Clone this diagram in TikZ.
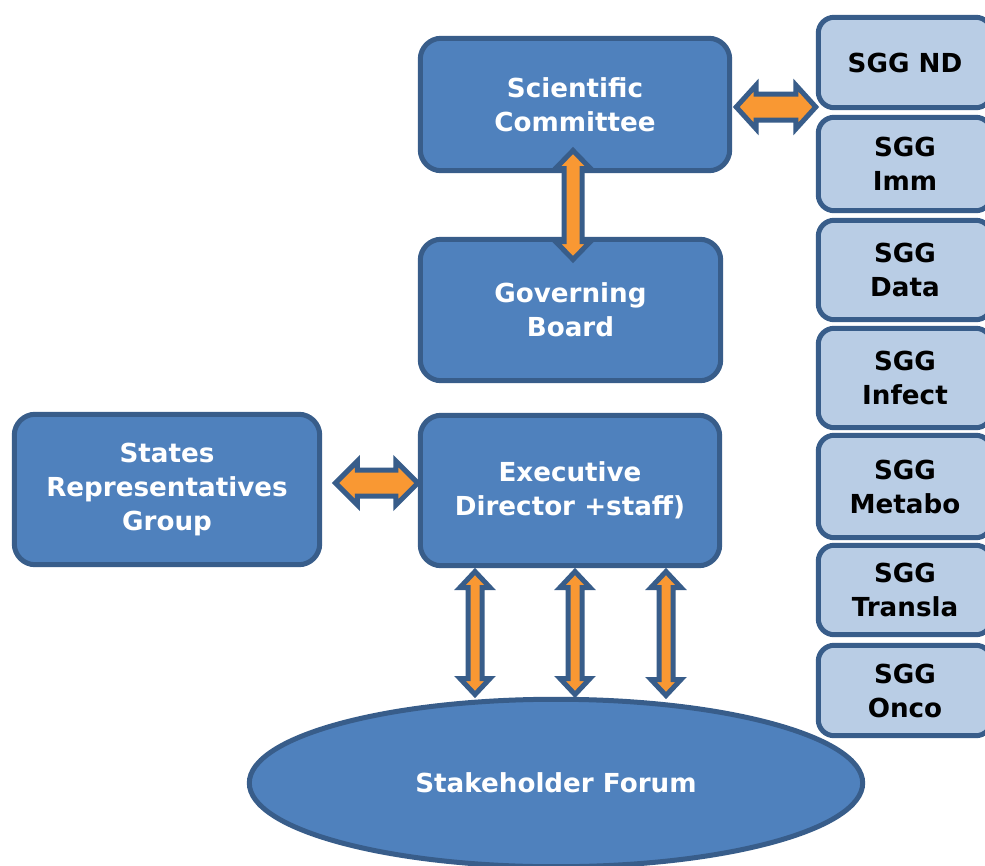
\documentclass[tikz,border=0pt]{standalone}
\usepackage{fontspec}
\setmainfont{DejaVu Sans}
\usetikzlibrary{calc,shapes.geometric}
\definecolor{boxblue}{RGB}{79,129,189}
\definecolor{edgeblue}{RGB}{56,93,138}
\definecolor{sggfill}{RGB}{185,205,229}
\definecolor{arroworange}{RGB}{249,152,51}
\newcommand\dblarrowpath[5]{%
  \draw[twowaystyle] (#1) -- ($(#1)!#3!(#2)!#4!90:(#2)$) -- ($(#1)!#3!(#2)!#5!90:(#2)$)
    -- ($(#2)!#3!(#1)!#5!270:(#1)$) -- ($(#2)!#3!(#1)!#4!270:(#1)$) -- (#2)
    -- ($(#2)!#3!(#1)!#4!90:(#1)$) -- ($(#2)!#3!(#1)!#5!90:(#1)$)
    -- ($(#1)!#3!(#2)!#5!270:(#2)$) -- ($(#1)!#3!(#2)!#4!270:(#2)$) -- cycle;}
\begin{document}
\begin{tikzpicture}[x=0.02cm,y=-0.02cm,
  labelfont/.style={font=\bfseries\fontsize{14.9}{19.35}\selectfont},
  mainbox/.style={draw=edgeblue, fill=boxblue, line width=0.1cm, rounded corners=0.42cm,
    text=white, labelfont, align=center, inner sep=0pt},
  sggbox/.style={draw=edgeblue, fill=sggfill, line width=0.1cm, rounded corners=0.32cm,
    text=black, labelfont, align=center, inner sep=0pt, minimum width=3.47cm},
  forum/.style={ellipse, draw=edgeblue, fill=boxblue, line width=0.1cm,
    text=white, labelfont, inner sep=0pt},
  twowaystyle/.style={draw=edgeblue, fill=arroworange, line width=0.1cm, line join=miter}]
\clip (0,0) rectangle (985,866);
\fill[white] (0,0) rectangle (985,866);
% main boxes
\node[mainbox, minimum width=6.19cm, minimum height=2.65cm] (sc) at (575,104.5) {Scientific\\Committee};
\node[mainbox, minimum width=6.01cm, minimum height=2.83cm] (gb) at (570.5,310) {Governing\\Board};
\node[mainbox, minimum width=6.11cm, minimum height=3.01cm] (srg) at (167,489.5) {States\\Representatives\\Group};
\node[mainbox, minimum width=5.99cm, minimum height=3.01cm] (ed) at (570,490.5) {Executive\\Director +staff)};
\node[forum, minimum width=12.27cm, minimum height=3.35cm] (sf) at (556,783) {Stakeholder Forum};
% SGG column
\node[sggbox, minimum height=1.81cm] (sgg1) at (905,62.5) {SGG ND};
\node[sggbox, minimum height=1.87cm] (sgg2) at (905,164) {SGG\\Imm};
\node[sggbox, minimum height=1.99cm] (sgg3) at (905,270) {SGG\\Data};
\node[sggbox, minimum height=1.99cm] (sgg4) at (905,378) {SGG\\Infect};
\node[sggbox, minimum height=2.05cm] (sgg5) at (905,486.5) {SGG\\Metabo};
\node[sggbox, minimum height=1.79cm] (sgg6) at (905,590) {SGG\\Transla};
\node[sggbox, minimum height=1.81cm] (sgg7) at (905,690.5) {SGG\\Onco};
% arrow end points
\coordinate (scR) at ($(sc.east)+(4,2.5)$);
\coordinate (sgL) at (scR -| sgg1.west);
\coordinate (scB) at (573,150.5);
\coordinate (gbT) at (573,259.5);
\coordinate (srgR) at (335.5,483);
\coordinate (edL) at (srgR -| ed.west);
\coordinate (edB1) at (475,571.5);
\coordinate (sfT1) at (475,694.5);
\coordinate (edB2) at (575,571.5);
\coordinate (sfT2) at (575,694.5);
\coordinate (edB3) at (666,571.5);
\coordinate (sfT3) at (666,695.5);
% double arrows
\dblarrowpath{scR}{sgL}{0.4cm}{0.44cm}{0.26cm}
\dblarrowpath{scB}{gbT}{0.36cm}{0.35cm}{0.18cm}
\dblarrowpath{srgR}{edL}{0.44cm}{0.44cm}{0.26cm}
\dblarrowpath{edB1}{sfT1}{0.32cm}{0.3cm}{0.14cm}
\dblarrowpath{edB2}{sfT2}{0.32cm}{0.3cm}{0.14cm}
\dblarrowpath{edB3}{sfT3}{0.32cm}{0.3cm}{0.14cm}
\end{tikzpicture}
\end{document}
